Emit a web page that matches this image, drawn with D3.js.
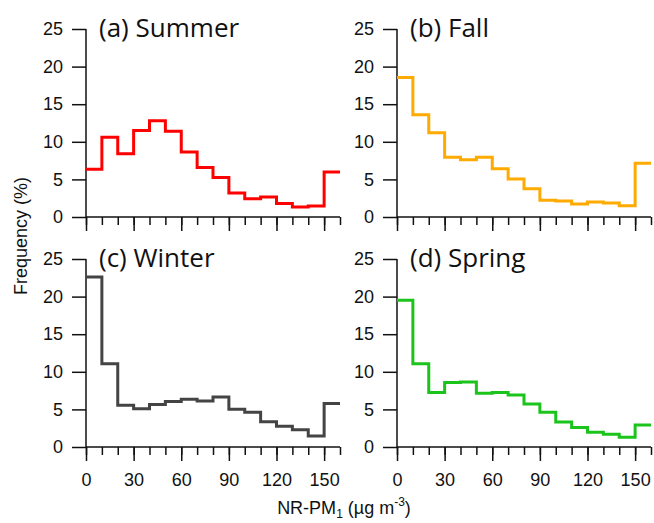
<!DOCTYPE html>
<html>
<head>
<meta charset="utf-8">
<script src="https://cdn.jsdelivr.net/npm/d3@7"></script>
<style>
  body { margin: 0; background: #fff; }
  svg { display: block; }
  .tick text { font-family: "Liberation Sans", Arial, sans-serif; font-size: 18px; fill: #111; }
  .title { font-family: "Open Sans", "Noto Sans", sans-serif; font-size: 26px; fill: #111; }
  .axis-label { font-family: "Liberation Sans", Arial, sans-serif; font-size: 18px; fill: #111; }
</style>
</head>
<body>
<svg id="chart" width="654" height="523"></svg>
<script>
// bin edges (µg m-3), 10 wide from 0 to 160
var binEdges = [0, 10, 20, 30, 40, 50, 60, 70, 80, 90, 100, 110, 120, 130, 140, 150, 160];
var xTickValues = [0, 30, 60, 90, 120, 150];
var yTickValues = [0, 5, 10, 15, 20, 25];

var seasons = ['(a) Summer', '(b) Fall', '(c) Winter', '(d) Spring'];
var seasonColors = ['#ff0000', '#ffaa00', '#444444', '#1bc41b'];

var summer = [6.35, 10.6, 8.4, 11.5, 12.8, 11.4, 8.66, 6.57, 5.24, 3.2, 2.44, 2.66, 1.78, 1.33, 1.47, 6.0];
var fall   = [18.56, 13.6, 11.2, 7.95, 7.6, 7.95, 6.4, 5.06, 3.77, 2.22, 2.13, 1.73, 2.0, 1.86, 1.5, 7.15];
var winter = [22.6, 11.06, 5.55, 5.1, 5.64, 6.04, 6.35, 6.13, 6.66, 5.02, 4.62, 3.37, 2.75, 2.3, 1.47, 5.77];
var spring = [19.5, 11.06, 7.24, 8.57, 8.66, 7.15, 7.24, 6.93, 5.73, 4.62, 3.33, 2.58, 1.95, 1.69, 1.29, 2.93];

var seriesValues = [summer, fall, winter, spring];

var svg = d3.select('#chart');

// panel placement
var panelLeft = [86, 397];
var panelTop = [29, 259];
var plotW = 254;   // 0..160
var plotH = 188;   // 0..25

seriesValues.forEach(function (values, i) {
    var col = i % 2;
    var row = Math.floor(i / 2);

    var g = svg.append('g')
        .attr('transform', 'translate(' + panelLeft[col] + ',' + panelTop[row] + ')');

    var x = d3.scaleLinear().domain([0, 160]).range([0, plotW]);
    var y = d3.scaleLinear().domain([0, 25]).range([plotH, 0]);

    // y axis
    var yAxis = g.append('g')
        .call(d3.axisLeft(y).tickValues(yTickValues).tickSize(14).tickPadding(9));
    yAxis.select('.domain').attr('d', 'M0,' + plotH + 'V0').attr('stroke', '#111').attr('stroke-width', 1.5);
    yAxis.selectAll('.tick line').attr('stroke', '#111').attr('stroke-width', 1.5);

    // x axis: minor ticks every 10, major every 30
    var xAxis = g.append('g')
        .attr('transform', 'translate(0,' + plotH + ')');
    xAxis.append('g')
        .call(d3.axisBottom(x).tickValues(binEdges).tickSize(8).tickFormat(''))
        .call(function (a) { a.select('.domain').remove(); })
        .selectAll('.tick line').attr('stroke', '#111').attr('stroke-width', 1.5);
    var major = xAxis.append('g')
        .call(d3.axisBottom(x).tickValues(xTickValues).tickSize(14).tickPadding(12)
            .tickFormat(row === 1 ? d3.format('d') : ''));
    major.select('.domain').attr('d', 'M0,0H' + plotW).attr('stroke', '#111').attr('stroke-width', 1.5);
    major.selectAll('.tick line').attr('stroke', '#111').attr('stroke-width', 1.5);

    // step line
    var pts = [];
    values.forEach(function (v, k) {
        pts.push([binEdges[k], v]);
        pts.push([binEdges[k + 1], v]);
    });
    var line = d3.line()
        .x(function (d) { return x(d[0]); })
        .y(function (d) { return y(d[1]); });
    g.append('path')
        .datum(pts)
        .attr('d', line)
        .attr('fill', 'none')
        .attr('stroke', seasonColors[i])
        .attr('stroke-width', 3);

    g.append('text')
        .attr('class', 'title')
        .attr('x', 13)
        .attr('y', 8)
        .text(seasons[i]);
});

svg.append('text')
    .attr('class', 'axis-label')
    .attr('transform', 'translate(27,236) rotate(-90)')
    .attr('text-anchor', 'middle')
    .text('Frequency (%)');

var xl = svg.append('text')
    .attr('class', 'axis-label')
    .attr('x', 344)
    .attr('y', 514)
    .attr('text-anchor', 'middle');
xl.append('tspan').text('NR-PM');
xl.append('tspan').attr('dy', 4).attr('font-size', 12).text('1');
xl.append('tspan').attr('dy', -4).text(' (µg m');
xl.append('tspan').attr('dy', -8).attr('font-size', 12).text('-3');
xl.append('tspan').attr('dy', 8).text(')');
</script>
</body>
</html>
